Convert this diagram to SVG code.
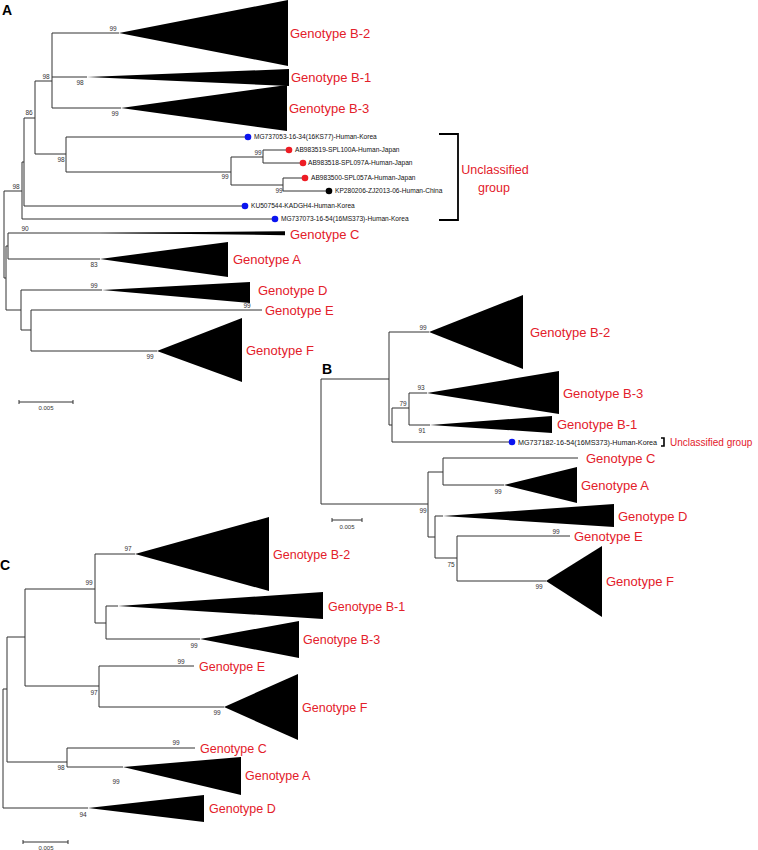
<svg xmlns="http://www.w3.org/2000/svg" width="758" height="850" viewBox="0 0 758 850">
<style>
.br{fill:none;stroke:#333;stroke-width:1}
.tri{fill:#000;stroke:none}
.lab{font-family:"Liberation Sans",Arial,sans-serif;font-size:13px;fill:#e3202a}
.labu{font-family:"Liberation Sans",Arial,sans-serif;font-size:12.5px;fill:#e3202a;text-anchor:middle}
.labs{font-family:"Liberation Sans",Arial,sans-serif;font-size:10px;fill:#e3202a}
.labc{font-family:"Liberation Sans",Arial,sans-serif;font-size:12.5px;fill:#e3202a}
.bs{font-family:"Liberation Sans",Arial,sans-serif;font-size:6.5px;fill:#333;text-anchor:middle}
.sc{font-family:"Liberation Sans",Arial,sans-serif;font-size:6px;fill:#333;text-anchor:middle}
.leaf{font-family:"Liberation Sans",Arial,sans-serif;font-size:6.6px;fill:#111}
.leafb{font-family:"Liberation Sans",Arial,sans-serif;font-size:7.2px;fill:#111}
.pan{font-family:"Liberation Sans",Arial,sans-serif;font-size:14px;font-weight:bold;fill:#000}
.blue{fill:#0a14f0}.red{fill:#ee1c24}.blk{fill:#000}
</style>
<rect width="758" height="850" fill="#fff"/>
<text class="pan" x="2" y="15">A</text>
<text class="pan" x="322" y="374">B</text>
<text class="pan" x="0" y="570">C</text>
<g id="connectors">
<path class="br" d="M52,33H119M52,33V108M52,77H87M52,108H121M35,81H52M35,81V154M35,154H66M66,137V172M66,137H245M66,172H231M231,157V185M231,157H263M263,150V163M263,150H286M263,163H300M231,185H283M283,178V191M283,178H302M283,191H326M24,118H35M24,118V206M24,206H242M22,162H24M22,162V219M22,219H272M4,191H22M4,191V278M4,278H6M6,246V310M6,246H8M8,233V259M8,233H285M8,259H100M6,310H21M21,290V330M21,290H102M21,330H31M31,310V351M31,310H262M31,351H157"/>
<path class="br" d="M321,379V504M321,379H389M389,332V425M389,332H429M389,425H392M392,408V442M392,408H409M409,393V425M409,393H427M409,425H430M392,442H509M321,504H428M428,472V537M428,472H443M443,458V485M443,458H578M443,485H504M428,537H435M435,516V558M435,516H443M435,558H457M457,536V581M457,536H570M457,581H546"/>
<path class="br" d="M3,689V808M3,689H7M7,637V762M7,637H25M25,589V686M25,589H95M95,554V623M95,554H135M95,623H106M106,606V639M106,606H118M106,639H200M25,686H99M99,666V707M99,666H194M99,707H224M7,762H67M67,748V767M67,748H195M67,767H123M3,808H88"/>
<path class="br" d="M19,402H73M19,400V404M73,400V404M332,520H362M332,518V522M362,518V522M23,842H68M23,840V844M68,840V844"/>
<path d="M439,134H458V220H439" fill="none" stroke="#000" stroke-width="1.8"/>
<path d="M661,438H664V446H661" fill="none" stroke="#000" stroke-width="1.6"/>
</g>
<g id="scale-labels">
<text class="sc" x="46" y="410">0.005</text>
<text class="sc" x="347" y="529">0.005</text>
<text class="sc" x="46" y="849.5">0.005</text>
</g>
<g id="panelA">
<g id="A-B2"><polygon class="tri" points="119,33 288,0 288,66"/><text class="lab" x="290" y="38">Genotype B-2</text></g>
<g id="A-B1"><polygon class="tri" points="87,77 289,69 289,86"/><text class="lab" x="291" y="82">Genotype B-1</text></g>
<g id="A-B3"><polygon class="tri" points="121,108 287,85 287,131"/><text class="lab" x="289" y="113">Genotype B-3</text></g>
<g id="A-MG737053"><circle class="blue" cx="248" cy="137" r="3.3"/><text class="leaf" x="254" y="139.3">MG737053-16-34(16KS77)-Human-Korea</text></g>
<g id="A-AB983519"><circle class="red" cx="289" cy="150" r="3.3"/><text class="leaf" x="295" y="152.3">AB983519-SPL100A-Human-Japan</text></g>
<g id="A-AB983518"><circle class="red" cx="303" cy="163" r="3.3"/><text class="leaf" x="308" y="165.3">AB983518-SPL097A-Human-Japan</text></g>
<g id="A-AB983500"><circle class="red" cx="305" cy="178" r="3.3"/><text class="leaf" x="311" y="180.3">AB983500-SPL057A-Human-Japan</text></g>
<g id="A-KP280206"><circle class="blk" cx="329" cy="191" r="3.3"/><text class="leaf" x="335" y="193.3">KP280206-ZJ2013-06-Human-China</text></g>
<g id="A-KU507544"><circle class="blue" cx="245" cy="206" r="3.3"/><text class="leaf" x="251" y="208.3">KU507544-KADGH4-Human-Korea</text></g>
<g id="A-MG737073"><circle class="blue" cx="275" cy="219" r="3.3"/><text class="leaf" x="281" y="221.3">MG737073-16-54(16MS373)-Human-Korea</text></g>
<g id="A-unclass"><text class="labu" x="495" y="174">Unclassified</text><text class="labu" x="494" y="192">group</text></g>
<g id="A-C"><polygon class="tri" points="100,233 285,231.3 285,235.2"/><text class="lab" x="290" y="239">Genotype C</text></g>
<g id="A-A"><polygon class="tri" points="100,259 228,242 228,277"/><text class="lab" x="233" y="264">Genotype A</text></g>
<g id="A-D"><polygon class="tri" points="102,290 250,282 250,303"/><text class="lab" x="258" y="295">Genotype D</text></g>
<g id="A-E"><text class="lab" x="265" y="315">Genotype E</text></g>
<g id="A-F"><polygon class="tri" points="157,351 242,318 242,382"/><text class="lab" x="246" y="355">Genotype F</text></g>
<g id="A-bootstrap">
<text class="bs" x="113" y="31">99</text><text class="bs" x="80" y="85">98</text><text class="bs" x="46" y="79">98</text><text class="bs" x="115" y="116">99</text><text class="bs" x="29" y="115">86</text><text class="bs" x="61" y="162">98</text><text class="bs" x="225" y="179">99</text><text class="bs" x="258" y="155">99</text><text class="bs" x="279" y="193">99</text><text class="bs" x="16" y="189">98</text><text class="bs" x="25" y="231">90</text><text class="bs" x="94" y="267">83</text><text class="bs" x="94" y="288">99</text><text class="bs" x="247" y="308">99</text><text class="bs" x="150" y="359">99</text>
</g>
</g>
<g id="panelB">
<g id="B-B2"><polygon class="tri" points="429,332 523,295 523,369"/><text class="lab" x="530" y="337">Genotype B-2</text></g>
<g id="B-B3"><polygon class="tri" points="427,393 559,371 559,414"/><text class="lab" x="563" y="398">Genotype B-3</text></g>
<g id="B-B1"><polygon class="tri" points="430,425 552,416 552,433"/><text class="lab" x="557" y="429">Genotype B-1</text></g>
<g id="B-MG737182"><circle class="blue" cx="512" cy="442" r="3.3"/><text class="leafb" x="518" y="444.5">MG737182-16-54(16MS373)-Human-Korea</text><text class="labs" x="670" y="445.5">Unclassified group</text></g>
<g id="B-C"><text class="lab" x="586" y="463">Genotype C</text></g>
<g id="B-A"><polygon class="tri" points="504,485 577,467 577,503"/><text class="lab" x="581" y="490">Genotype A</text></g>
<g id="B-D"><polygon class="tri" points="443,516 614,504 614,527"/><text class="lab" x="618" y="521">Genotype D</text></g>
<g id="B-E"><text class="lab" x="574" y="541">Genotype E</text></g>
<g id="B-F"><polygon class="tri" points="546,581 602,546 602,617"/><text class="lab" x="606" y="586">Genotype F</text></g>
<g id="B-bootstrap">
<text class="bs" x="423" y="330">99</text><text class="bs" x="421" y="390">93</text><text class="bs" x="403" y="406">79</text><text class="bs" x="422" y="433">91</text><text class="bs" x="423" y="513">99</text><text class="bs" x="498" y="494">99</text><text class="bs" x="556" y="534">99</text><text class="bs" x="451" y="567">75</text><text class="bs" x="539" y="589">99</text>
</g>
</g>
<g id="panelC">
<g id="C-B2"><polygon class="tri" points="135,554 269,517 269,591"/><text class="labc" x="273" y="558.5">Genotype B-2</text></g>
<g id="C-B1"><polygon class="tri" points="118,606 323,592 323,619"/><text class="labc" x="328" y="610.5">Genotype B-1</text></g>
<g id="C-B3"><polygon class="tri" points="200,639 299,621 299,658"/><text class="labc" x="303" y="643.5">Genotype B-3</text></g>
<g id="C-E"><text class="labc" x="199" y="670.5">Genotype E</text></g>
<g id="C-F"><polygon class="tri" points="224,707 298,674 298,740"/><text class="labc" x="302" y="711.5">Genotype F</text></g>
<g id="C-C"><text class="labc" x="200" y="752.5">Genotype C</text></g>
<g id="C-A"><polygon class="tri" points="123,767 241,757 241,795"/><text class="labc" x="245" y="779.5">Genotype A</text></g>
<g id="C-D"><polygon class="tri" points="88,808 204,795 204,822"/><text class="labc" x="209" y="812.5">Genotype D</text></g>
<g id="C-bootstrap">
<text class="bs" x="128" y="551">97</text><text class="bs" x="89" y="585">99</text><text class="bs" x="194" y="648">99</text><text class="bs" x="181" y="664">99</text><text class="bs" x="94" y="695">97</text><text class="bs" x="217" y="715">99</text><text class="bs" x="176" y="745">99</text><text class="bs" x="61" y="770">98</text><text class="bs" x="116" y="784">99</text><text class="bs" x="83" y="817">94</text>
</g>
</g>
</svg>
